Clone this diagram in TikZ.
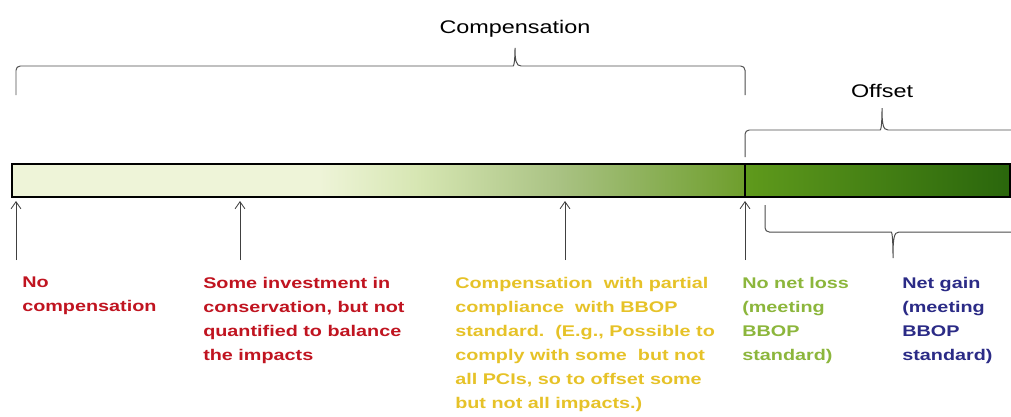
\documentclass[tikz,border=0pt]{standalone}
\usepackage{fontspec}
\setmainfont{Liberation Sans}[FakeStretch=1.28]
\usetikzlibrary{arrows.meta}

\definecolor{barcream}{RGB}{238,244,216}
\definecolor{barlight}{RGB}{214,230,178}
\definecolor{barmid}{RGB}{169,194,131}
\definecolor{barleaf}{RGB}{110,158,44}
\definecolor{barfresh}{RGB}{95,154,28}
\definecolor{bardark}{RGB}{42,102,12}
\definecolor{redtext}{RGB}{192,20,32}
\definecolor{yellowtext}{RGB}{230,194,40}
\definecolor{greentext}{RGB}{140,182,60}
\definecolor{bluetext}{RGB}{43,43,134}

\begin{document}
\begin{tikzpicture}[x=0.025cm, y=-0.025cm,
    brace/.style={draw=black!70, line width=0.7pt},
    pointer/.style={draw=black!75, line width=0.6pt, -{Straight Barb[length=5pt,width=7pt]}},
    note/.style={anchor=north west, inner sep=0pt, align=left, font=\fontsize{11}{17}\selectfont\bfseries},
    heading/.style={anchor=base, inner sep=0pt, font=\fontsize{13}{15}\selectfont}]
    \clip (0,0) rectangle (1011,416);
    % Colour bar
    \fill[barcream] (12,164) rectangle (320,197);
    \shade[left color=barcream, right color=barlight] (319,164) rectangle (420,197);
    \shade[left color=barlight, right color=barmid] (419,164) rectangle (560,197);
    \shade[left color=barmid, right color=barleaf] (559,164) rectangle (745,197);
    \shade[left color=barfresh, right color=bardark] (745,164) rectangle (1010,197);
    \draw[line width=1.4pt] (12,164) rectangle (1010,197);
    \draw[line width=0.8pt] (745,164) -- (745,197);
    % Headings
    \node[heading] (comp) at (515,33) {Compensation};
    \node[heading] (offs) at (882,97) {Offset};
    % Braces
    \coordinate (compL) at (16,95);
    \coordinate (compR) at (745,95);
    \coordinate (compTip) at (515,48);
    \draw[brace] (compL) [rounded corners=3pt] -- (16,66) -- (509,66) [sharp corners]
        .. controls (514,66) and (515,60) .. (compTip)
        .. controls (515,60) and (516,66) .. (521,66) [rounded corners=3pt] -- (745,66) -- (compR);
    \coordinate (offL) at (745,157);
    \coordinate (offR) at (1030,157);
    \coordinate (offTip) at (882,108);
    \draw[brace] (offL) [rounded corners=3pt] -- (745,130) -- (876,130) [sharp corners]
        .. controls (881,130) and (882,124) .. (offTip)
        .. controls (882,124) and (883,130) .. (888,130) [rounded corners=3pt] -- (1030,130) -- (offR);
    \coordinate (gainL) at (765,205);
    \coordinate (gainR) at (1030,205);
    \coordinate (gainTip) at (893,258);
    \draw[brace] (gainL) [rounded corners=3pt] -- (765,232) -- (887,232) [sharp corners]
        .. controls (892,232) and (893,238) .. (gainTip)
        .. controls (893,238) and (894,232) .. (899,232) [rounded corners=3pt] -- (1030,232) -- (gainR);
    % Pointers to the bar
    \foreach \x/\n in {16/none,240/some,565/part,745/nnl} {
        \coordinate (top\n) at (\x,201);
        \coordinate (bot\n) at (\x,260);
        \draw[pointer] (bot\n) -- (top\n);
    }
    % Notes
    \node[note, text=redtext] (none) at (22,277) {No\\compensation};
    \node[note, text=redtext] (some) at (203,277) {Some investment\ in\\conservation,\ but not\\quantified to balance\\the impacts};
    \node[note, text=yellowtext] (part) at (455,277) {Compensation\ \ with partial\\compliance\ \ with BBOP\\standard.\ \ (E.g., Possible to\\comply with some\ \ but not\\all PCIs, so to offset some\\but not all impacts.)};
    \node[note, text=greentext] (nnl) at (742,277) {No net loss\\(meeting\\BBOP\\standard)};
    \node[note, text=bluetext] (gain) at (902,277) {Net gain\\(meeting\\BBOP\\standard)};
\end{tikzpicture}
\end{document}
